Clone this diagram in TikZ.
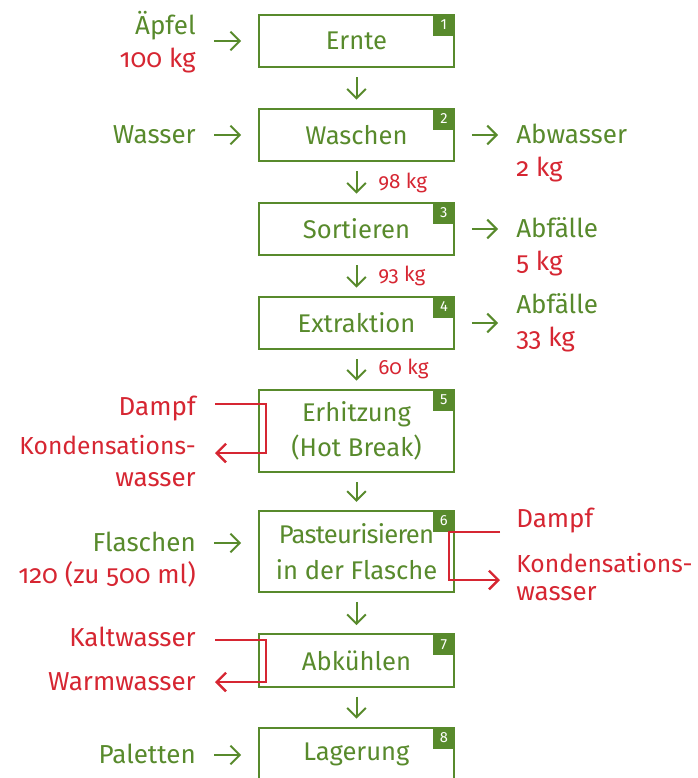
\documentclass[tikz,border=0pt]{standalone}
\usepackage{fontspec}
\setmainfont[Numbers=OldStyle]{Fira Sans}
\usetikzlibrary{arrows.meta}

\definecolor{gruen}{RGB}{88,138,44}
\definecolor{rot}{RGB}{214,38,50}

\begin{document}
\begin{tikzpicture}[x=0.75pt,y=-0.75pt,
	schritt/.style={draw=gruen,line width=1.5pt,minimum width=146.5pt,minimum height=39.5pt,
		inner sep=0pt,align=center,text=gruen,font=\fontsize{19.2}{26.5}\selectfont},
	nummer/.style={fill=gruen,text=white,minimum size=16.5pt,inner sep=0pt,anchor=north east,
		font=\fontsize{11}{11}\selectfont\addfontfeatures{Numbers=Lining}},
	links/.style={anchor=base east,inner sep=0pt,text=gruen,font=\fontsize{19.5}{24}\selectfont},
	rechts/.style={anchor=base west,inner sep=0pt,text=gruen,font=\fontsize{19.5}{24}\selectfont},
	menge/.style={anchor=base west,inner sep=0pt,text=rot,font=\fontsize{15.5}{18}\selectfont},
	gpfeil/.style={draw=gruen,line width=1.5pt,-{Straight Barb[length=7pt,width=14pt]}},
	rpfeil/.style={draw=rot,line width=1.8pt,-{Straight Barb[length=7pt,width=14pt]}}]
	
	\useasboundingbox (0,0) rectangle (698,778);
	
	\node[schritt] (s1) at (356.5,41)    {Ernte};
	\node[schritt] (s2) at (356.5,135)   {Waschen};
	\node[schritt] (s3) at (356.5,229)   {Sortieren};
	\node[schritt] (s4) at (356.5,323)   {Extraktion};
	\node[schritt,minimum height=62pt] (s5) at (356.5,431)   {Erhitzung\\(Hot Break)};
	\node[schritt,minimum height=61pt] (s6) at (356.5,551.5) {{\addfontfeature{LetterSpace=-3}Pasteurisieren}\\in der Flasche};
	\node[schritt] (s7) at (356.5,660.5) {Abkühlen};
	\node[schritt] (s8) at (356.5,754)   {Lagerung};
	
	\foreach \i in {1,...,8}
		\node[nummer] (n\i) at (s\i.north east) {\i};
	
	\foreach \i [evaluate=\i as \j using int(\i+1)] in {1,...,7}
		\draw[gpfeil,shorten <=6.5pt,shorten >=6pt] (s\i) -- (s\j);
	
	% Mengen zwischen den Schritten
	\node[menge] (m2) at (378,188) {98 kg};
	\node[menge] (m3) at (378,281) {93 kg};
	\node[menge] (m4) at (378,374) {60 kg};
	
	% Zufuhr links
	\node[links] (aepfel)   at (196,34)  {Äpfel};
	\node[links,text=rot] (aepfelkg) at (196,67)  {100 kg};
	\node[links] (wasser)   at (196,143) {Wasser};
	\node[links] (flaschen) at (196,551) {Flaschen};
	\node[links,text=rot] (flaschenzahl) at (196,583) {120 (zu 500 ml)};
	\node[links] (paletten) at (196,763) {Paletten};
	
	\coordinate (e1) at (214,41);
	\coordinate (e2) at (214,135);
	\coordinate (e6) at (214,543);
	\coordinate (e8) at (214,755);
	\foreach \i in {1,2,6,8}
		\draw[gpfeil,shorten >=12.5pt] (e\i) -- (e\i -| s\i.west);
	
	% Abgang rechts
	\node[rechts] (abwasser)   at (516,143) {Abwasser};
	\node[rechts,text=rot] (abwasserkg) at (516,176) {2 kg};
	\node[rechts] (abfall3)    at (516,237) {Abfälle};
	\node[rechts,text=rot] (abfall3kg)  at (516,270) {5 kg};
	\node[rechts] (abfall4)    at (516,313) {Abfälle};
	\node[rechts,text=rot] (abfall4kg)  at (516,346) {33 kg};
	
	\coordinate (a2) at (498,135);
	\coordinate (a3) at (498,229);
	\coordinate (a4) at (498,323);
	\foreach \i in {2,3,4}
		\draw[gpfeil,shorten <=12.5pt] (a\i -| s\i.east) -- (a\i);
	
	% Dampf und Wasser
	\node[links,text=rot] (dampf5) at (196,415) {Dampf};
	\node[links,text=rot,font=\fontsize{18.5}{24}\selectfont] (kond5)  at (196,454) {Kondensations-};
	\node[links,text=rot] (kond5b) at (196,486) {wasser};
	\node[rechts,text=rot] (dampf6) at (516,527) {Dampf};
	\node[rechts,text=rot,font=\fontsize{18.5}{24}\selectfont] (kond6)  at (516,572) {Kondensations-};
	\node[rechts,text=rot] (kond6b) at (516,600) {wasser};
	\node[links,text=rot] (kalt7)  at (196,646) {Kaltwasser};
	\node[links,text=rot] (warm7)  at (196,690) {Warmwasser};
	
	\coordinate (d5) at (215,404);
	\coordinate (r5) at (266,404);
	\coordinate (k5) at (215,453);
	\coordinate (d6) at (500,532);
	\coordinate (r6) at (449,532);
	\coordinate (k6) at (500,580);
	\coordinate (d7) at (215,640);
	\coordinate (r7) at (266,640);
	\coordinate (k7) at (215,682);
	\draw[rpfeil] (d5) -- (r5) |- (k5);
	\draw[rpfeil] (d6) -- (r6) |- (k6);
	\draw[rpfeil] (d7) -- (r7) |- (k7);
	
\end{tikzpicture}
\end{document}
